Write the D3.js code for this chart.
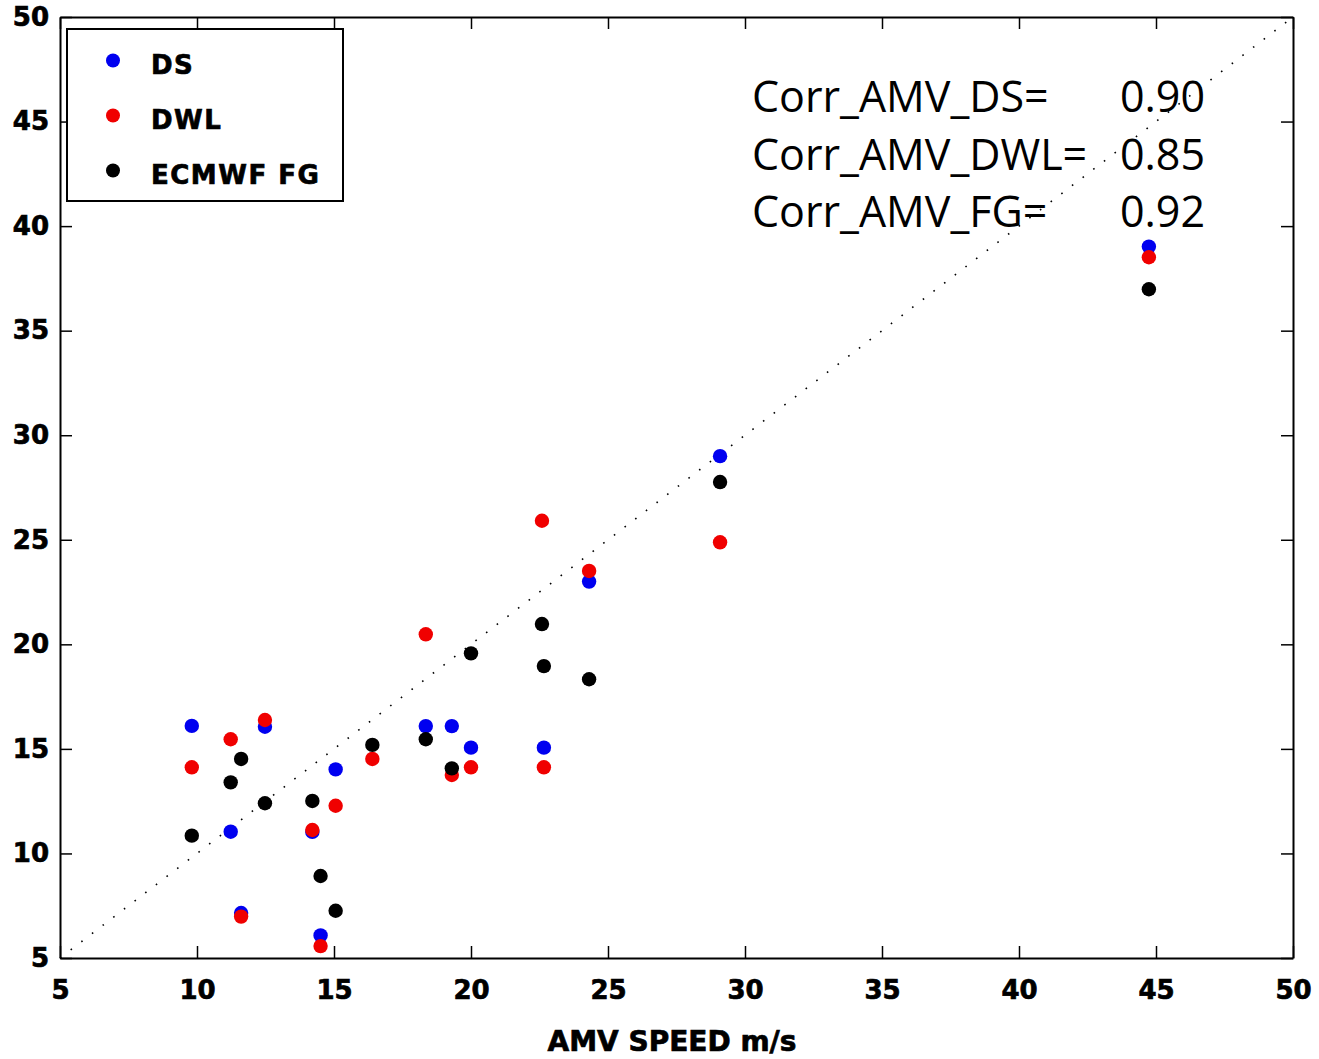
<!DOCTYPE html>
<html>
<head>
<meta charset="utf-8">
<script src="https://cdn.jsdelivr.net/npm/d3@7"></script>
<style>
  body { margin: 0; background: #fff; }
  .axis text { font-family: "DejaVu Sans", sans-serif; font-weight: bold; font-size: 26px; fill: #000; stroke: #000; stroke-width: 0.7px; }
  .axis path, .axis line { stroke: #000; }
  .heavy { font-family: "DejaVu Sans", sans-serif; font-weight: bold; stroke: #000; stroke-width: 0.7px; }
</style>
</head>
<body>
<svg id="chart" width="1319" height="1059"></svg>
<script>
// AMV speed (x) and the three matching speeds (y), m/s
const amvSpeed = [9.81, 11.23, 11.61, 12.48, 14.21, 14.51, 15.06, 16.40, 18.35, 19.30, 20.0, 22.59, 22.66, 24.31, 29.09, 44.74];
const dsSpeed  = [16.1, 11.04, 7.15, 16.06, 11.03, 6.08, 14.02, null, 16.09, 16.09, 15.06, null, 15.06, 23.0, 29.0, 39.02];
const dwlSpeed = [14.12, 15.46, 6.98, 16.38, 11.12, 5.57, 12.28, 14.52, 20.48, 13.75, 14.12, 25.91, 14.12, 23.51, 24.88, 38.51];
const fgSpeed  = [10.85, 13.40, 14.52, 12.40, 12.51, 8.92, 7.26, 15.19, 15.46, 14.07, 19.57, 20.97, 18.96, 18.33, 27.76, 36.98];

const seriesNames = ['DS', 'DWL', 'ECMWF FG'];
const seriesColors = ['#0000f0', '#f00000', '#000000'];
const xTicks = [5, 10, 15, 20, 25, 30, 35, 40, 45, 50];
const yTicks = [5, 10, 15, 20, 25, 30, 35, 40, 45, 50];
const corrLabels = ['Corr_AMV_DS=', 'Corr_AMV_DWL=', 'Corr_AMV_FG='];
const corrValues = ['0.90', '0.85', '0.92'];

const svg = d3.select('#chart');
const margin = { top: 17, right: 26, bottom: 101, left: 60 };
const width = 1319 - margin.left - margin.right;
const height = 1059 - margin.top - margin.bottom;

const x = d3.scaleLinear().domain([5, 50]).range([0, width]);
const y = d3.scaleLinear().domain([5, 50]).range([height, 0]);

const g = svg.append('g')
  .attr('transform', 'translate(' + margin.left + ',' + margin.top + ')');

// axes, ticks pointing inward on all four sides
g.append('g')
  .attr('class', 'axis')
  .attr('transform', 'translate(0,' + height + ')')
  .call(d3.axisBottom(x).tickValues(xTicks).tickSizeInner(-12).tickSizeOuter(0).tickPadding(23));
g.append('g')
  .attr('class', 'axis')
  .call(d3.axisLeft(y).tickValues(yTicks).tickSizeInner(-12).tickSizeOuter(0).tickPadding(11));
g.append('g')
  .attr('class', 'axis')
  .call(d3.axisTop(x).tickValues(xTicks).tickSizeInner(-12).tickSizeOuter(0).tickFormat(''));
g.append('g')
  .attr('class', 'axis')
  .attr('transform', 'translate(' + width + ',0)')
  .call(d3.axisRight(y).tickValues(yTicks).tickSizeInner(-12).tickSizeOuter(0).tickFormat(''));

g.selectAll('.axis path').attr('stroke-width', 2);
g.selectAll('.axis line').attr('stroke-width', 1.5);

// 1:1 line
g.append('line')
  .attr('x1', x(5)).attr('y1', y(5))
  .attr('x2', x(50)).attr('y2', y(50))
  .attr('stroke', '#000')
  .attr('stroke-width', 1.6)
  .attr('stroke-dasharray', '1.6 11.8');

// points
const allSeries = [dsSpeed, dwlSpeed, fgSpeed];
allSeries.forEach(function (vals, i) {
  const pts = amvSpeed.map(function (a, j) { return { a: a, v: vals[j] }; })
    .filter(function (d) { return d.v !== null; });
  g.append('g').selectAll('circle')
    .data(pts)
    .enter().append('circle')
    .attr('cx', function (d) { return x(d.a); })
    .attr('cy', function (d) { return y(d.v); })
    .attr('r', 7.2)
    .attr('fill', seriesColors[i]);
});

// legend
const legend = svg.append('g');
legend.append('rect')
  .attr('x', 67).attr('y', 29)
  .attr('width', 276).attr('height', 172)
  .attr('fill', '#fff')
  .attr('stroke', '#000')
  .attr('stroke-width', 2);
seriesNames.forEach(function (name, i) {
  legend.append('circle')
    .attr('cx', 113).attr('cy', 60.5 + i * 55)
    .attr('r', 7)
    .attr('fill', seriesColors[i]);
  legend.append('text')
    .attr('class', 'heavy')
    .attr('x', 151).attr('y', 74 + i * 55)
    .attr('font-size', 26)
    .attr('letter-spacing', 1.5)
    .text(name);
});

// correlation notes
corrLabels.forEach(function (label, i) {
  svg.append('text')
    .attr('x', 752).attr('y', 112 + i * 57.5)
    .attr('font-family', '"Open Sans", sans-serif')
    .attr('font-size', 43)
    .text(label);
  svg.append('text')
    .attr('x', 1205).attr('y', 112 + i * 57.5)
    .attr('text-anchor', 'end')
    .attr('font-family', '"Open Sans", sans-serif')
    .attr('font-size', 43)
    .text(corrValues[i]);
});

// x axis title
svg.append('text')
  .attr('class', 'heavy')
  .attr('x', 672).attr('y', 1051)
  .attr('text-anchor', 'middle')
  .attr('font-size', 28)
  .text('AMV SPEED m/s');
</script>
</body>
</html>
